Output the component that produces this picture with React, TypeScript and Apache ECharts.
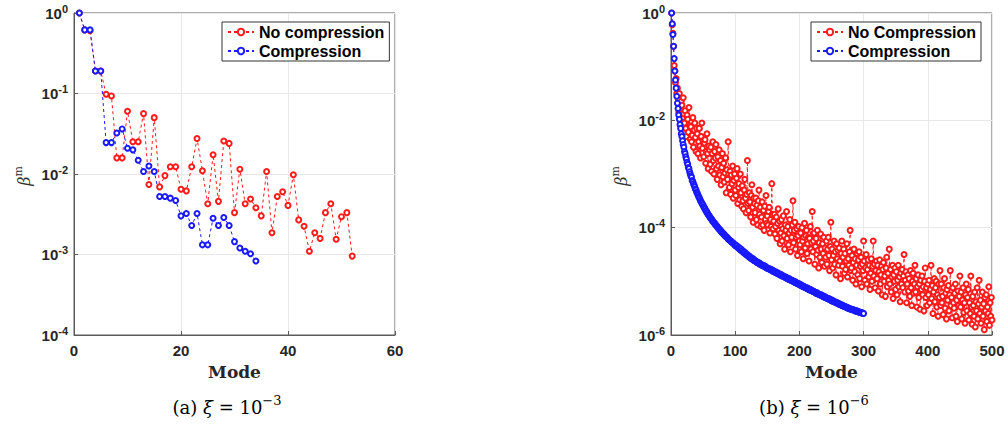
import React, { useEffect, useRef } from 'react';
import * as echarts from 'echarts';

// All values are log10(beta) * 100, indexed by mode starting at 1
const leftNoCompression = [
  0, -21, -22, -72, -72, -101, -103, -180, -180, -122,
  -160, -160, -125, -213, -130, -216, -202, -191, -191, -219,
  -221, -191, -156, -196, -237, -176, -234, -159, -162, -248,
  -194, -237, -231, -242, -252, -197, -273, -228, -222, -239,
  -201, -257, -265, -296, -273, -280, -248, -237, -281, -253,
  -248, -302,
];
const leftCompression = [
  0, -21, -21, -72, -72, -161, -161, -149, -144, -168,
  -170, -183, -197, -190, -197, -228, -228, -230, -233, -252,
  -249, -264, -249, -288, -288, -255, -264, -254, -264, -284,
  -292, -296, -299, -308,
];
const rightNoCompression = [
  0, -22, -38, -62, -98, -108, -130, -122, -150, -140,
  -160, -185, -150, -178, -200, -165, -172, -195, -158, -188,
  -205, -182, -215, -230, -190, -198, -222, -176, -210, -235,
  -212, -240, -228, -195, -250, -218, -205, -232, -258, -215,
  -225, -262, -240, -215, -248, -270, -230, -205, -252, -238,
  -268, -242, -236, -280, -258, -225, -262, -290, -248, -255,
  -282, -250, -295, -262, -240, -275, -300, -258, -270, -245,
  -290, -310, -268, -285, -255, -302, -275, -320, -288, -262,
  -305, -280, -315, -298, -270, -335, -292, -310, -240, -300,
  -325, -295, -338, -302, -318, -285, -345, -312, -300, -330,
  -340, -308, -290, -355, -325, -318, -348, -300, -335, -360,
  -322, -350, -365, -330, -310, -345, -372, -338, -275, -355,
  -368, -335, -352, -380, -340, -320, -362, -390, -345, -355,
  -372, -345, -385, -358, -395, -350, -330, -375, -362, -398,
  -380, -352, -395, -368, -405, -360, -385, -340, -392, -378,
  -395, -370, -362, -410, -385, -398, -318, -375, -402, -388,
  -375, -412, -398, -380, -420, -392, -365, -405, -388, -430,
  -410, -385, -425, -402, -378, -415, -440, -395, -405, -370,
  -420, -398, -432, -410, -385, -445, -405, -418, -395, -350,
  -428, -405, -390, -440, -418, -402, -452, -415, -398, -425,
  -432, -410, -445, -400, -425, -458, -418, -392, -438, -415,
  -405, -448, -430, -418, -462, -420, -398, -440, -428, -370,
  -445, -425, -410, -468, -435, -420, -450, -405, -442, -475,
  -428, -455, -412, -440, -465, -430, -448, -418, -472, -438,
  -455, -425, -468, -440, -418, -452, -480, -435, -390, -460,
  -440, -475, -452, -425, -468, -445, -488, -430, -458, -442,
  -470, -438, -462, -495, -448, -425, -472, -455, -440, -485,
  -448, -478, -462, -430, -492, -458, -470, -445, -405, -480,
  -475, -452, -498, -465, -440, -482, -458, -505, -470, -448,
  -488, -460, -445, -495, -472, -455, -510, -468, -480, -425,
  -462, -498, -475, -450, -505, -478, -460, -492, -470, -515,
  -485, -458, -500, -472, -425, -490, -468, -512, -480, -462,
  -495, -470, -518, -482, -460, -505, -488, -472, -525, -478,
  -465, -500, -490, -528, -475, -455, -510, -485, -498, -440,
  -505, -478, -520, -492, -470, -532, -488, -500, -475, -515,
  -482, -525, -498, -470, -510, -492, -538, -485, -505, -478,
  -512, -490, -450, -520, -498, -482, -540, -505, -488, -518,
  -495, -528, -480, -512, -545, -500, -485, -522, -505, -470,
  -520, -495, -548, -510, -488, -530, -505, -552, -498, -515,
  -490, -525, -510, -555, -500, -475, -530, -512, -545, -505,
  -525, -498, -540, -515, -470, -532, -508, -560, -520, -495,
  -538, -512, -500, -548, -525, -565, -505, -530, -480, -545,
  -505, -540, -528, -562, -512, -495, -550, -522, -570, -515,
  -535, -508, -555, -525, -480, -545, -530, -568, -512, -540,
  -550, -522, -505, -565, -535, -575, -518, -545, -528, -490,
  -548, -520, -570, -535, -512, -558, -540, -578, -525, -505,
  -555, -530, -515, -572, -540, -560, -490, -548, -580, -528,
  -545, -565, -520, -585, -538, -555, -512, -570, -542, -498,
  -560, -535, -578, -548, -520, -565, -542, -590, -530, -555,
  -525, -575, -548, -560, -510, -582, -540, -565, -530, -572,
];
const rightCompression = [
  0, -20, -40, -62, -85, -108, -125, -140, -155, -168,
  -178, -190, -198, -208, -215, -225, -230, -238, -245, -250,
  -258, -262, -268, -272, -278, -282, -288, -290, -296, -300,
  -304, -306, -312, -314, -318, -321, -324, -328, -330, -334,
  -336, -339, -342, -344, -347, -350, -352, -354, -357, -358,
  -361, -363, -365, -368, -369, -372, -373, -376, -377, -379,
  -381, -383, -384, -386, -388, -389, -391, -392, -394, -395,
  -397, -398, -400, -401, -403, -404, -405, -407, -408, -409,
  -411, -412, -413, -415, -416, -417, -418, -419, -421, -422,
  -423, -424, -425, -426, -427, -428, -429, -430, -432, -433,
  -433, -435, -434, -437, -438, -437, -440, -441, -440, -443,
  -444, -443, -446, -447, -446, -449, -450, -449, -452, -452,
  -454, -453, -455, -457, -456, -458, -459, -458, -461, -461,
  -462, -462, -464, -465, -464, -466, -467, -466, -468, -469,
  -469, -470, -471, -470, -472, -473, -472, -474, -475, -475,
  -476, -476, -477, -478, -477, -479, -480, -479, -481, -481,
  -482, -483, -482, -484, -485, -484, -486, -486, -487, -488,
  -487, -489, -490, -489, -491, -491, -492, -493, -492, -494,
  -494, -495, -496, -495, -497, -497, -498, -499, -498, -500,
  -500, -501, -502, -501, -503, -503, -504, -505, -504, -506,
  -507, -506, -508, -508, -509, -510, -509, -511, -511, -512,
  -513, -512, -514, -514, -515, -516, -515, -517, -517, -518,
  -519, -518, -520, -520, -521, -522, -521, -523, -523, -524,
  -524, -525, -526, -525, -527, -527, -528, -529, -528, -530,
  -530, -531, -531, -532, -533, -532, -534, -534, -535, -536,
  -535, -537, -537, -538, -538, -539, -540, -539, -541, -541,
  -542, -542, -543, -543, -544, -545, -544, -546, -546, -547,
  -547, -548, -548, -549, -549, -550, -550, -551, -551, -552,
  -552, -552, -553, -553, -554, -554, -555, -555, -555, -556,
  -556, -557, -557, -557, -558, -558, -559, -559, -559, -560,
];

const leftNames = ['No compression', 'Compression'];
const rightNames = ['No Compression', 'Compression'];
const captions = [
  { label: '(a)', exp: '−3' },
  { label: '(b)', exp: '−6' },
];

const toPairs = (arr: number[]) => arr.map((v, i) => [i + 1, Math.pow(10, v / 100)]);

const RED = '#ff1a1a';
const BLUE = '#1a1aff';
const AX = '#262626';

const tickFont = { fontFamily: 'Liberation Sans, Arial, sans-serif', fontWeight: 'bold' as const, color: AX };

function logLabel(v: number) {
  const e = Math.round(Math.log10(v));
  return `{b|10}{s|${e}}`;
}

const yRich = {
  b: { fontFamily: 'Liberation Sans', fontWeight: 'bold', fontSize: 15, color: AX, lineHeight: 20, verticalAlign: 'middle' },
  s: { fontFamily: 'Liberation Sans', fontWeight: 'bold', fontSize: 11, color: AX, lineHeight: 20, verticalAlign: 'top' },
};

function makeXAxis(gridIndex: number, max: number, interval: number) {
  return {
    type: 'value',
    gridIndex,
    min: 0,
    max,
    interval,
    name: 'Mode',
    nameLocation: 'middle',
    nameGap: 28,
    nameTextStyle: { fontFamily: 'DejaVu Serif', fontWeight: 'bold', fontSize: 17, color: AX },
    axisLine: { show: true, lineStyle: { color: '#5a5a5a', width: 1 } },
    axisTick: { show: true, inside: true, length: 4, lineStyle: { color: '#5a5a5a' } },
    axisLabel: { ...tickFont, fontSize: 15, margin: 8 },
    splitLine: { show: true, lineStyle: { color: '#e8e8e8', width: 1 } },
  };
}

function makeYAxis(gridIndex: number, min: number, logBase: number) {
  return {
    type: 'log',
    gridIndex,
    logBase,
    min,
    max: 1,
    axisLine: { show: true, lineStyle: { color: '#5a5a5a', width: 1 } },
    axisTick: { show: true, inside: true, length: 4, lineStyle: { color: '#5a5a5a' } },
    axisLabel: { formatter: logLabel, rich: yRich, margin: 6 },
    splitLine: { show: true, lineStyle: { color: '#e8e8e8', width: 1 } },
    minorTick: { show: false },
  };
}

function makeSeries(name: string, data: number[], color: string, idx: number) {
  return {
    name,
    type: 'line',
    xAxisIndex: idx,
    yAxisIndex: idx,
    data: toPairs(data),
    symbol: 'emptyCircle',
    symbolSize: 5,
    showAllSymbol: true,
    itemStyle: { color, borderColor: color, borderWidth: 1 },
    lineStyle: { color, width: 1, type: [3, 3] },
    emphasis: { disabled: true },
  };
}

function legendFor(names: string[], left: number) {
  return {
    data: names,
    orient: 'vertical',
    left,
    top: 22,
    backgroundColor: '#fff',
    borderColor: '#333',
    borderWidth: 1,
    padding: [2, 5, 2, 5],
    itemGap: 3,
    itemWidth: 26,
    itemHeight: 8,
    textStyle: { fontFamily: 'Liberation Sans', fontWeight: 'bold', fontSize: 16, color: '#000' },
    selectedMode: false,
  };
}

function caption(x: number, c: { label: string; exp: string }) {
  return {
    type: 'text',
    x,
    y: 407,
    style: {
      text: `{n|${c.label} }{i|ξ}{n| = 10}{s|${c.exp}}`,
      align: 'center',
      verticalAlign: 'middle',
      rich: {
        n: { fontFamily: 'DejaVu Serif', fontSize: 18, lineHeight: 26, verticalAlign: 'middle', fill: '#000' },
        i: { fontFamily: 'DejaVu Serif', fontStyle: 'italic', fontSize: 18, lineHeight: 26, verticalAlign: 'middle', fill: '#000' },
        s: { fontFamily: 'DejaVu Serif', fontSize: 13, lineHeight: 26, verticalAlign: 'top', fill: '#000' },
      },
    },
  };
}

function betaLabel(x: number) {
  return {
    type: 'text',
    x,
    y: 176,
    rotation: Math.PI / 2,
    style: {
      text: '{i|β}{s|m}',
      align: 'center',
      verticalAlign: 'middle',
      rich: {
        i: { fontFamily: 'DejaVu Serif', fontStyle: 'italic', fontSize: 16, lineHeight: 22, verticalAlign: 'middle', fill: '#333' },
        s: { fontFamily: 'DejaVu Serif', fontSize: 11, lineHeight: 22, verticalAlign: 'top', fill: '#333' },
      },
    },
  };
}

export default function App() {
  const ref = useRef<HTMLDivElement>(null);
  useEffect(() => {
    if (!ref.current) return;
    const chart = echarts.init(ref.current, null, { renderer: 'svg' });
    const option: any = {
      animation: false,
      backgroundColor: '#fff',
      grid: [
        { left: 74, top: 13, width: 321, height: 322, show: true, borderColor: '#5a5a5a', borderWidth: 1, backgroundColor: 'transparent' },
        { left: 671, top: 13, width: 321, height: 322, show: true, borderColor: '#5a5a5a', borderWidth: 1, backgroundColor: 'transparent' },
      ],
      xAxis: [makeXAxis(0, 60, 20), makeXAxis(1, 500, 100)],
      yAxis: [makeYAxis(0, 1e-4, 10), makeYAxis(1, 1e-6, 100)],
      legend: [legendFor(leftNames, 222), legendFor(rightNames, 811)],
      series: [
        makeSeries(leftNames[0], leftNoCompression, RED, 0),
        makeSeries(leftNames[1], leftCompression, BLUE, 0),
        makeSeries(rightNames[0], rightNoCompression, RED, 1),
        makeSeries(rightNames[1], rightCompression, BLUE, 1),
      ],
      graphic: [
        caption(227, captions[0]),
        caption(814, captions[1]),
        betaLabel(24),
        betaLabel(621),
      ],
    };
    chart.setOption(option);
    return () => chart.dispose();
  }, []);
  return (
    <div
      ref={ref}
      style={{ position: 'fixed', left: 0, top: 0, width: 1008, height: 430, background: '#fff' }}
    />
  );
}
